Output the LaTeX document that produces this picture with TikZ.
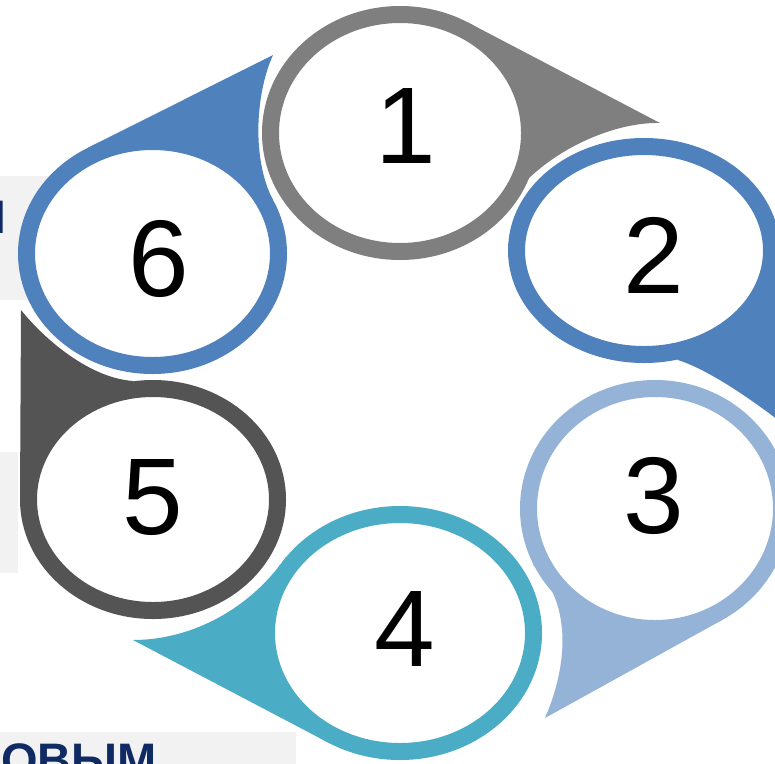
\documentclass[tikz,border=0pt]{standalone}
\usepackage{fontspec}
\setmainfont{Liberation Sans}
\definecolor{cgray}{HTML}{7F7F7F}
\definecolor{cblue}{HTML}{4F81BD}
\definecolor{clight}{HTML}{95B3D7}
\definecolor{cteal}{HTML}{4BACC6}
\definecolor{cdark}{HTML}{545454}
\definecolor{cbox}{HTML}{F2F2F2}
\definecolor{cnavy}{HTML}{102A63}
\begin{document}
\begin{tikzpicture}[x=1pt,y=-1pt,
  ring/.style={line width=17pt, fill=white},
  digit/.style={font=\fontsize{109}{109}\selectfont, inner sep=0pt, anchor=base, text=black},
  lbl/.style={font=\bfseries\fontsize{47}{47}\selectfont, text=cnavy, inner sep=0pt},
  greybox/.style={fill=cbox, draw=none}]
\useasboundingbox (0,0) rectangle (775,763);
\clip (0,0) rectangle (775,763);
\fill[white] (0,0) rectangle (775,763);

% background boxes and partial texts
\path[greybox] (0,176) rectangle (100,300);
\path[greybox] (0,452) rectangle (18,573);
\path[greybox] (0,732) rectangle (296,770);
\node[lbl, anchor=base east] (tx1) at (6.5,233) {И};
\node[lbl, anchor=base east] (tx2) at (157,776) {ОВЫМ};

% centres
\coordinate (c1) at (400,133);
\coordinate (c2) at (644,250.5);
\coordinate (c3) at (655,508.5);
\coordinate (c4) at (400,633);
\coordinate (c5) at (153,499.5);
\coordinate (c6) at (152.5,253.5);

% tangent points, tips, bases
\coordinate (a1) at (468.2,22.6);  \coordinate (t1) at (660,123);  \coordinate (b1) at (527,180);
\coordinate (a2) at (780,249.4);   \coordinate (t2) at (782,423);  \coordinate (b2) at (678,360);
\coordinate (a3) at (722.8,619.6); \coordinate (t3) at (545,718);  \coordinate (b3) at (533,565);
\coordinate (a4) at (328.1,742.5); \coordinate (t4) at (133,640);  \coordinate (b4) at (286,557);
\coordinate (a5) at (20,499);      \coordinate (t5) at (21,310);   \coordinate (b5) at (133,381);
\coordinate (a6) at (86.9,148.3);  \coordinate (t6) at (273,55);   \coordinate (b6) at (273,200);

% tails
\fill[cgray]  (a1) -- (t1) .. controls (620,122) and (565,143) .. (b1) -- (c1) -- cycle;
\fill[cblue]  (a2) -- (t2) .. controls (765,410) and (715,372) .. (b2) -- (c2) -- cycle;
\fill[clight] (a3) -- (t3) .. controls (570,660) and (570,600) .. (b3) -- (c3) -- cycle;
\fill[cteal]  (a4) -- (t4) .. controls (185,640) and (245,615) .. (b4) -- (c4) -- cycle;
\fill[cdark]  (a5) -- (t5) .. controls (45,340) and (90,378) .. (b5) -- (c5) -- cycle;
\fill[cblue]  (a6) -- (t6) .. controls (255,95) and (252,160) .. (b6) -- (c6) -- cycle;

% rings
\draw[ring, draw=cgray]  (c1) ellipse [x radius=129.5pt, y radius=118.5pt];
\draw[ring, draw=cblue]  (c2) ellipse [x radius=127.5pt, y radius=104pt];
\draw[ring, draw=clight] (c3) ellipse [x radius=126.5pt, y radius=120pt];
\draw[ring, draw=cteal]  (c4) ellipse [x radius=133.5pt, y radius=118.5pt];
\draw[ring, draw=cdark]  (c5) ellipse [x radius=124.5pt, y radius=111pt];
\draw[ring, draw=cblue]  (c6) ellipse [x radius=126pt, y radius=112pt];

% digits
\node[digit] (n1) at (406,163) {1};
\node[digit] (n2) at (653.5,293) {2};
\node[digit] (n3) at (654,533) {3};
\node[digit] (n4) at (404.5,666) {4};
\node[digit] (n5) at (152.5,534) {5};
\node[digit] (n6) at (159,296) {6};
\end{tikzpicture}
\end{document}
